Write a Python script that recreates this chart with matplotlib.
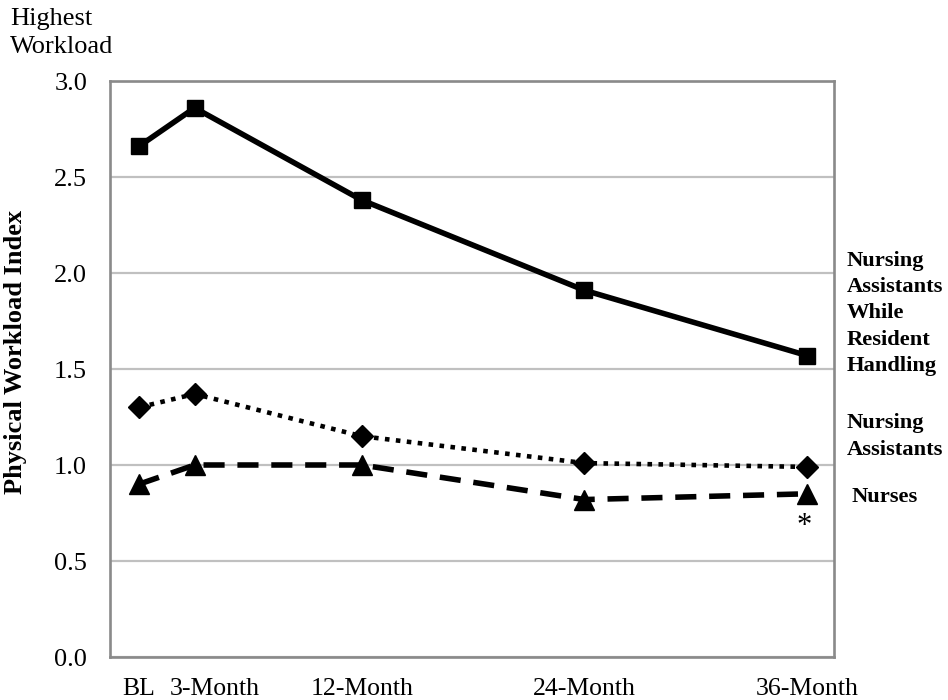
import matplotlib
matplotlib.use("Agg")
import matplotlib.pyplot as plt
from matplotlib.transforms import ScaledTranslation

months = [0, 3, 12, 24, 36]
tick_labels = ["BL", "3-Month", "12-Month", "24-Month", "36-Month"]
na_resident = [2.66, 2.86, 2.38, 1.91, 1.57]
na = [1.30, 1.37, 1.15, 1.01, 0.99]
nurses = [0.90, 1.00, 1.00, 0.82, 0.85]
yticks = [0.0, 0.5, 1.0, 1.5, 2.0, 2.5, 3.0]

plt.rcParams['font.family'] = ['Liberation Serif', 'DejaVu Serif']

fig = plt.figure(figsize=(9.48, 7.0), dpi=100)
ax = fig.add_axes([110/948, 1 - 657/700, (834-110)/948, (657-81)/700])

ax.plot(months, na_resident, color='black', lw=4, marker='s', ms=12,
        solid_joinstyle='miter', zorder=4, clip_on=False)
ax.plot(months, na, color='black', lw=3.3, ls=(0, (1.0, 1.4)), marker='D', ms=11,
        zorder=4, clip_on=False)
ax.plot(months, nurses, color='black', lw=4, ls=(0, (3.8, 2.3)), marker='^', ms=15,
        zorder=4, clip_on=False)

ax.set_xlim(-1.56, 37.45)
ax.set_ylim(0, 3.0)
ax.set_yticks(yticks)
ax.set_yticklabels([f"{v:.1f}" for v in yticks], fontsize=19)
ax.set_xticks(months)
ax.set_xticklabels(tick_labels, fontsize=18.5)
ax.tick_params(axis='both', length=0)
ax.tick_params(axis='y', pad=16.5)
ax.tick_params(axis='x', pad=15)
lbl = ax.get_xticklabels()[1]
lbl.set_transform(lbl.get_transform() + ScaledTranslation(0.20, 0, fig.dpi_scale_trans))

ax.grid(axis='y', color='#c0c0c0', lw=1.6)
ax.set_axisbelow(True)
for s in ax.spines.values():
    s.set_color('#8a8a8a')
    s.set_linewidth(1.9)

ax.set_ylabel("Physical Workload Index", fontsize=19, fontweight='bold')
ax.yaxis.set_label_coords(-0.114, 0.53)

fig.text(10/948, 1 - 8/700, "Highest\nWorkload", fontsize=19, va='top', ha='left',
         linespacing=1.33)

fig.text(847/948, 1 - 313.5/700, "Nursing\nAssistants\nWhile\nResident\nHandling",
         fontsize=16.2, fontweight='bold', va='center', ha='left', linespacing=1.42)
fig.text(847/948, 1 - 436.5/700, "Nursing\nAssistants", fontsize=16.2,
         fontweight='bold', va='center', ha='left', linespacing=1.42)
fig.text(852/948, 1 - 497/700, "Nurses", fontsize=16.2,
         fontweight='bold', va='center', ha='left')
ax.annotate("*", xy=(36, nurses[-1]), xytext=(-2, -13), textcoords='offset points',
            ha='center', va='top', fontsize=22)

fig.savefig("out.png", dpi=100)
